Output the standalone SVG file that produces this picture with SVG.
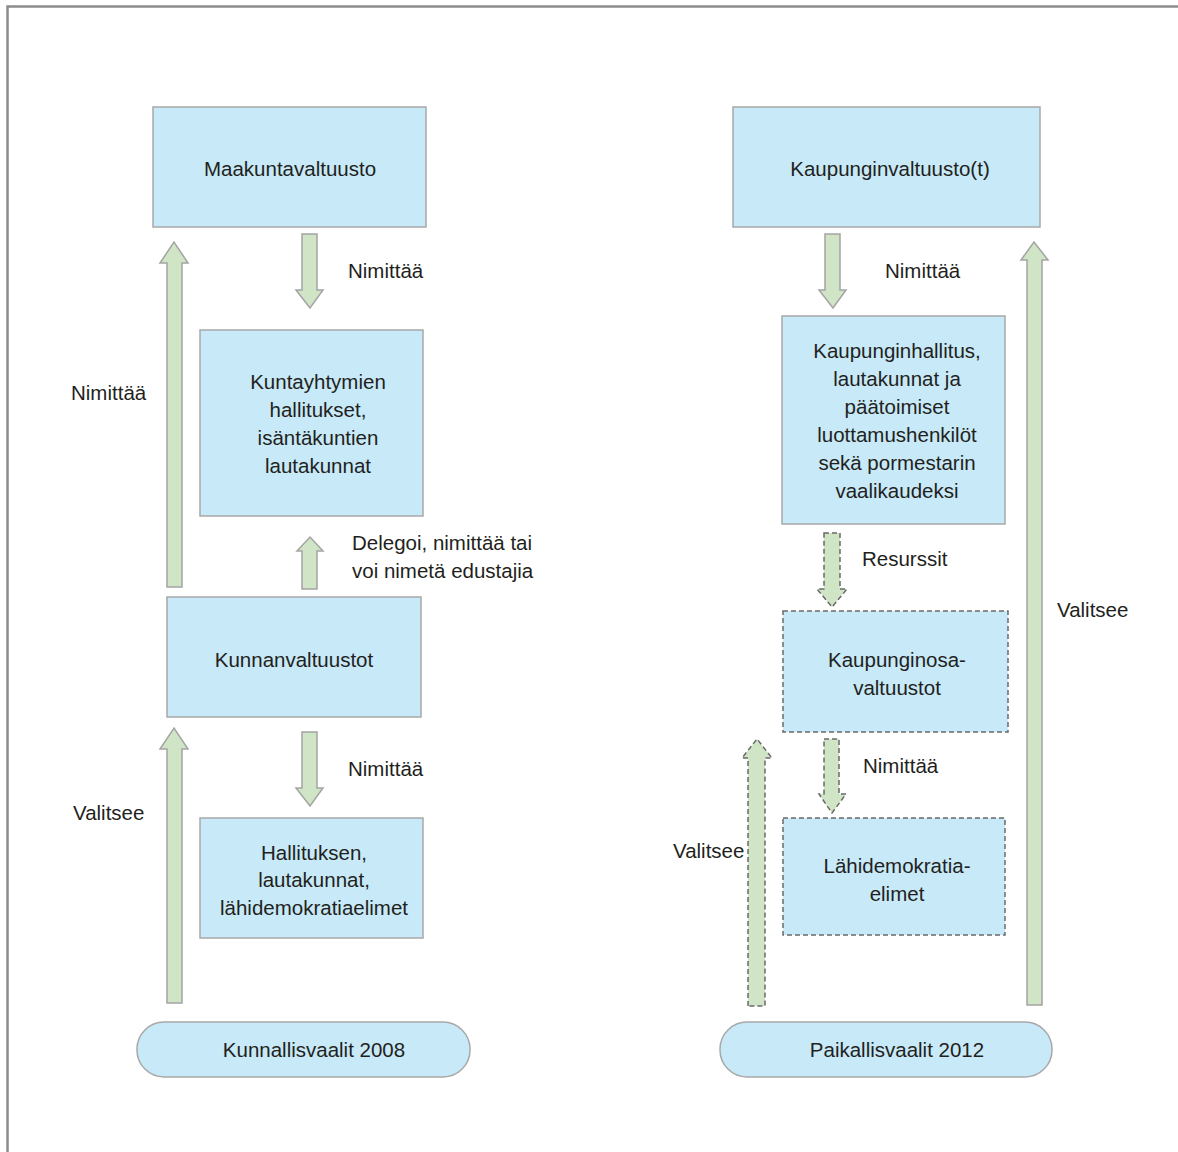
<svg xmlns="http://www.w3.org/2000/svg" width="1178" height="1152" viewBox="0 0 1178 1152">
<style>
.box{fill:#c7e9f8;stroke:#a8a8a8;stroke-width:1.5}
.dbox{fill:#c7e9f8;stroke:#6a6a6a;stroke-width:1.5;stroke-dasharray:5,3}
.arr{fill:#cfe5c6;stroke:#a4a4a4;stroke-width:1.5}
.darr{fill:#cfe5c6;stroke:#6a6a6a;stroke-width:1.5;stroke-dasharray:5,3}
text{font-family:"Liberation Sans",Arial,sans-serif;font-size:20.5px;fill:#231f20;text-anchor:middle}
.l{text-anchor:start}
</style>
<rect width="1178" height="1152" fill="#fff"/>
<g id="frame"><path d="M7.5 1152 V6.5 H1178" fill="none" stroke="#8c8c8c" stroke-width="2.5"/></g>
<g id="connectors">
<path class="arr" d="M302 234 H317 V290 H323 L310 308 L296 290 H302 Z"/>
<path class="arr" d="M167 587 V263 H160 L174 242 L188 263 H182 V587 Z"/>
<path class="arr" d="M302 589 V551 H297 L310 537 L323 551 H317 V589 Z"/>
<path class="arr" d="M167 1003 V749 H160 L174 728 L188 749 H182 V1003 Z"/>
<path class="arr" d="M302 732 H317 V788 H323 L310 806 L296 788 H302 Z"/>
<path class="arr" d="M825 234 H840 V290 H846 L833 308 L819 290 H825 Z"/>
<path class="darr" d="M824 533 H840 V589 H847 L832 607 L817 589 H824 Z"/>
<path class="darr" d="M824 739 H839 V794 H846 L832 813 L819 794 H824 Z"/>
<path class="darr" d="M748 1006 V758 H742 L757 739 L772 758 H765 V1006 Z"/>
<path class="arr" d="M1027 1005 V260 H1021 L1034 242 L1048 260 H1042 V1005 Z"/>
<text class="l" x="348" y="278">Nimittää</text>
<text class="l" x="71" y="400">Nimittää</text>
<text class="l" x="352" y="550">Delegoi, nimittää tai</text>
<text class="l" x="352" y="578">voi nimetä edustajia</text>
<text class="l" x="348" y="776">Nimittää</text>
<text class="l" x="73" y="820">Valitsee</text>
<text class="l" x="885" y="278">Nimittää</text>
<text class="l" x="862" y="566">Resurssit</text>
<text class="l" x="863" y="773">Nimittää</text>
<text class="l" x="673" y="858">Valitsee</text>
<text class="l" x="1057" y="617">Valitsee</text>
</g>
<g id="maakuntavaltuusto"><rect class="box" x="153" y="107" width="273" height="120"/><text x="290" y="176">Maakuntavaltuusto</text></g>
<g id="kuntayhtymien"><rect class="box" x="200" y="330" width="223" height="186"/>
<text x="318" y="389">Kuntayhtymien</text><text x="318" y="417">hallitukset,</text><text x="318" y="445">isäntäkuntien</text><text x="318" y="473">lautakunnat</text></g>
<g id="kunnanvaltuustot"><rect class="box" x="167" y="597" width="254" height="120"/><text x="294" y="667">Kunnanvaltuustot</text></g>
<g id="hallituksen"><rect class="box" x="200" y="818" width="223" height="120"/>
<text x="314" y="860">Hallituksen,</text><text x="314" y="887">lautakunnat,</text><text x="314" y="915">lähidemokratiaelimet</text></g>
<g id="kunnallisvaalit"><rect class="box" x="137" y="1022" width="333" height="55" rx="27"/><text x="314" y="1057">Kunnallisvaalit 2008</text></g>
<g id="kaupunginvaltuusto"><rect class="box" x="733" y="107" width="307" height="120"/><text x="890" y="176">Kaupunginvaltuusto(t)</text></g>
<g id="kaupunginhallitus"><rect class="box" x="782" y="316" width="223" height="208"/>
<text x="897" y="358">Kaupunginhallitus,</text><text x="897" y="386">lautakunnat ja</text><text x="897" y="414">päätoimiset</text><text x="897" y="442">luottamushenkilöt</text><text x="897" y="470">sekä pormestarin</text><text x="897" y="498">vaalikaudeksi</text></g>
<g id="kaupunginosavaltuustot"><rect class="dbox" x="783" y="611" width="225" height="121"/>
<text x="897" y="667">Kaupunginosa-</text><text x="897" y="695">valtuustot</text></g>
<g id="lahidemokratiaelimet"><rect class="dbox" x="783" y="818" width="222" height="117"/>
<text x="897" y="873">Lähidemokratia-</text><text x="897" y="901">elimet</text></g>
<g id="paikallisvaalit"><rect class="box" x="720" y="1022" width="332" height="55" rx="27"/><text x="897" y="1057">Paikallisvaalit 2012</text></g>
</svg>
